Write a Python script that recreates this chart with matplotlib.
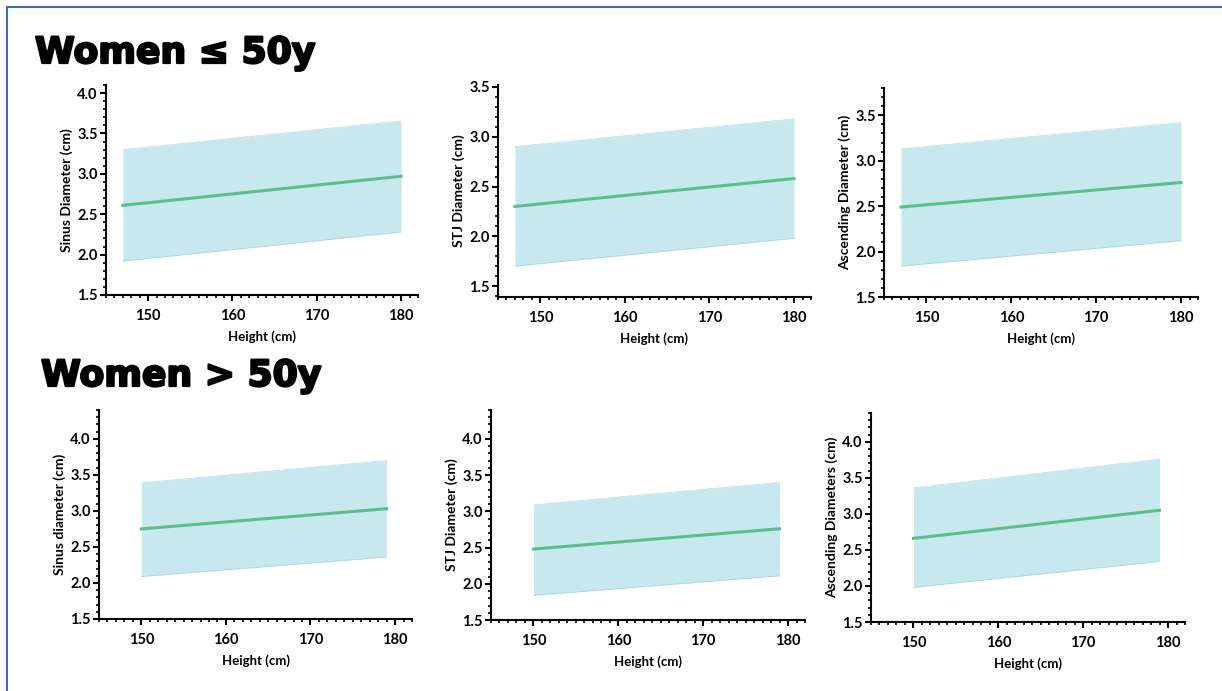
import matplotlib
matplotlib.use('Agg')
import matplotlib.pyplot as plt
import matplotlib.patheffects as pe
from matplotlib.ticker import MultipleLocator
from matplotlib.lines import Line2D

# Reference ranges (mean and normal band) vs height
x_young = [147, 180]
x_old = [150, 179]

sinus_young_mid = [2.61, 2.97]
sinus_young_low = [1.92, 2.28]
sinus_young_high = [3.30, 3.655]

stj_young_mid = [2.30, 2.58]
stj_young_low = [1.70, 1.98]
stj_young_high = [2.90, 3.18]

asc_young_mid = [2.49, 2.76]
asc_young_low = [1.84, 2.12]
asc_young_high = [3.13, 3.42]

sinus_old_mid = [2.75, 3.03]
sinus_old_low = [2.09, 2.36]
sinus_old_high = [3.39, 3.70]

stj_old_mid = [2.48, 2.76]
stj_old_low = [1.84, 2.11]
stj_old_high = [3.09, 3.40]

asc_old_mid = [2.66, 3.05]
asc_old_low = [1.98, 2.34]
asc_old_high = [3.36, 3.76]

ylabels = ['Sinus Diameter (cm)', 'STJ Diameter (cm)', 'Ascending Diameter (cm)',
           'Sinus diameter (cm)', 'STJ Diameter (cm)', 'Ascending Diameters (cm)']
titles = ['Women \u2264 50y', 'Women > 50y']

W, H = 1222, 691
fig = plt.figure(figsize=(W / 100, H / 100), dpi=100)

# axes boxes in pixels: left, right, top, bottom
boxes = [(106, 418, 85, 295), (498, 811, 85, 297), (884, 1198, 88, 297),
         (99, 412, 410, 619), (491, 805, 410, 620), (871, 1185, 413, 622)]
ylims = [(1.5, 4.1), (1.39, 3.52), (1.5, 3.8), (1.5, 4.4), (1.5, 4.4), (1.5, 4.4)]

panels = [
    (x_young, sinus_young_low, sinus_young_mid, sinus_young_high),
    (x_young, stj_young_low, stj_young_mid, stj_young_high),
    (x_young, asc_young_low, asc_young_mid, asc_young_high),
    (x_old, sinus_old_low, sinus_old_mid, sinus_old_high),
    (x_old, stj_old_low, stj_old_mid, stj_old_high),
    (x_old, asc_old_low, asc_old_mid, asc_old_high),
]

fill_col = '#c8e8f0'
line_col = '#5cbf8b'
font = ['Lato', 'DejaVu Sans']

for i, (x, lo, mid, hi) in enumerate(panels):
    l, r, t, b = boxes[i]
    ax = fig.add_axes([l / W, 1 - b / H, (r - l) / W, (b - t) / H])
    ax.fill_between(x, lo, hi, color=fill_col, lw=0)
    # faint dotted edges on the band
    ax.plot(x, lo, color='#8fc3d0', lw=0.6, ls=(0, (1, 1)))
    ax.plot(x, hi, color='#8fc3d0', lw=0.6, ls=(0, (1, 1)))
    ax.plot(x, mid, color=line_col, lw=2.2)
    ax.set_xlim(145, 182)
    ax.set_ylim(*ylims[i])
    ax.set_xticks([150, 160, 170, 180])
    ax.set_yticks([v for v in [1.5, 2.0, 2.5, 3.0, 3.5, 4.0] if v <= ylims[i][1]])
    ax.yaxis.set_major_formatter(matplotlib.ticker.FormatStrFormatter('%.1f'))
    ax.xaxis.set_minor_locator(MultipleLocator(1))
    ax.yaxis.set_minor_locator(MultipleLocator(0.1))
    for s in ['top', 'right']:
        ax.spines[s].set_visible(False)
    for s in ['left', 'bottom']:
        ax.spines[s].set_linewidth(1.5)
    ax.tick_params(which='major', length=4, width=1.5, pad=2)
    ax.tick_params(which='minor', length=2.5, width=1.2)
    ax.tick_params(axis='x', pad=6)
    for lab in ax.get_xticklabels() + ax.get_yticklabels():
        lab.set_fontfamily(font)
        lab.set_fontweight('bold')
        lab.set_fontsize(10.5)
    ax.set_xlabel('Height (cm)', family=font, fontweight='bold', fontsize=9.5, labelpad=5)
    ax.set_ylabel(ylabels[i], family=font, fontweight='bold', fontsize=10, labelpad=3)

stroke = [pe.withStroke(linewidth=1.6, foreground='black')]
fig.text(35 / W, 1 - 63 / H, titles[0], family='DejaVu Sans',
         fontweight='bold', fontsize=26, ha='left', va='baseline', path_effects=stroke)
fig.text(41 / W, 1 - 386 / H, titles[1], family='DejaVu Sans',
         fontweight='bold', fontsize=26, ha='left', va='baseline', path_effects=stroke)

# blue frame around the figure (top and left edges)
fig.add_artist(Line2D([7.5 / W, 7.5 / W], [0, 1 - 6.5 / H], color='#3b6fa6', lw=1.5,
                      transform=fig.transFigure))
fig.add_artist(Line2D([7.5 / W, 1], [1 - 6.5 / H, 1 - 6.5 / H], color='#3b6fa6', lw=1.5,
                      transform=fig.transFigure))

fig.savefig('out.png', dpi=100)
